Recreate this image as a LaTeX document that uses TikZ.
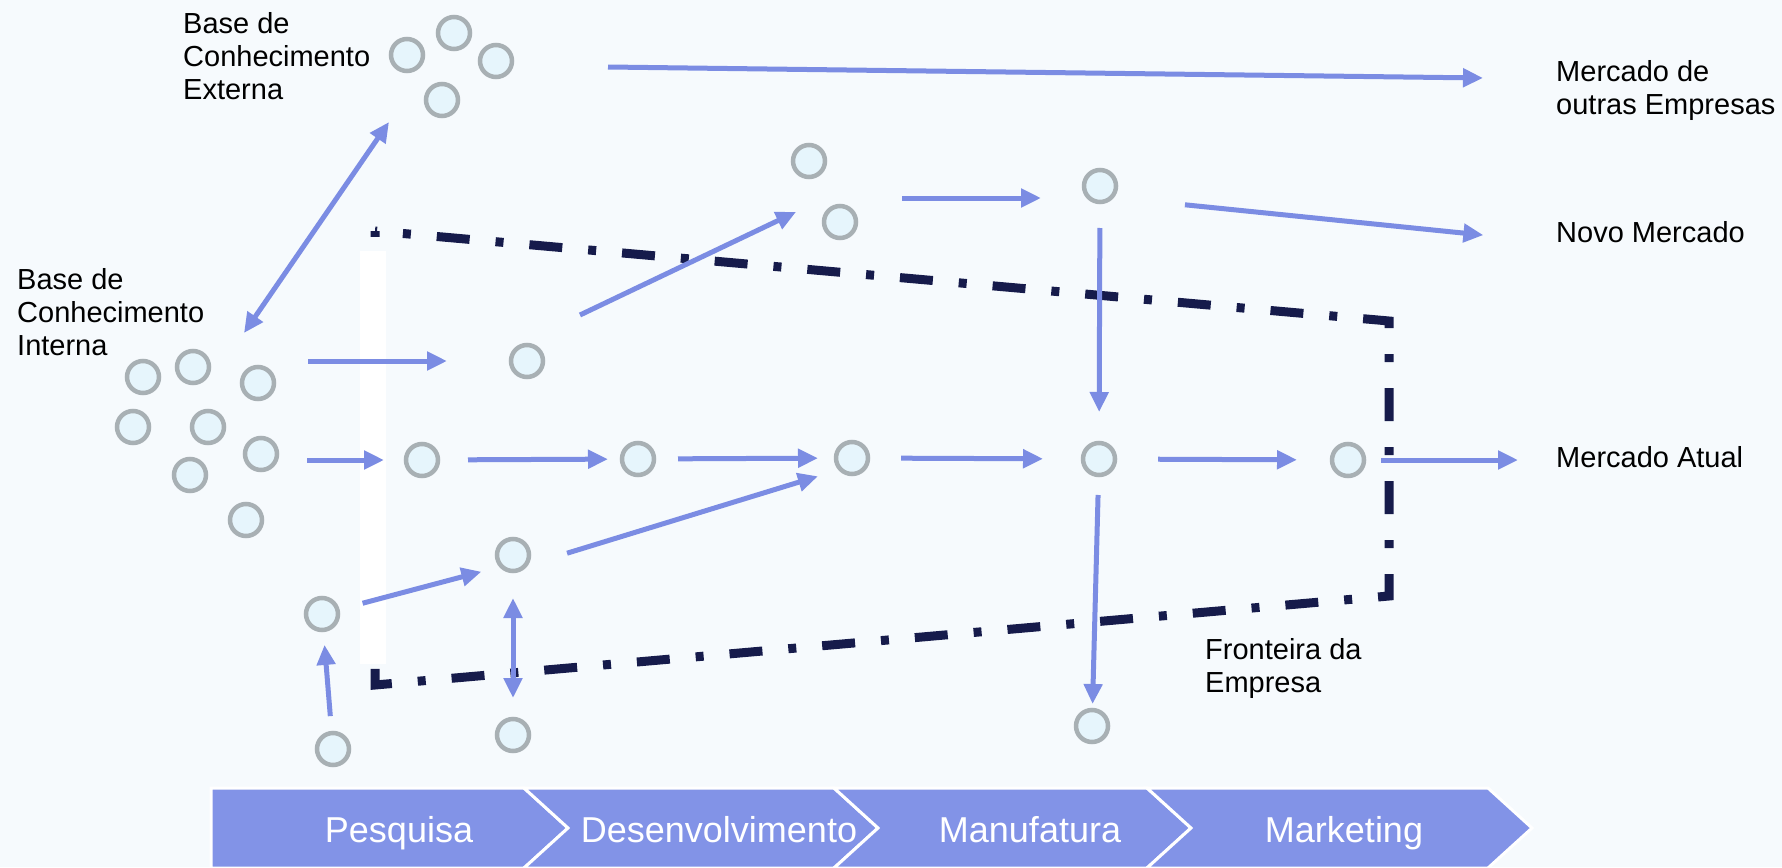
\documentclass[tikz,border=0pt]{standalone}
\usepackage{fontspec}
\setmainfont{Liberation Sans}
\usetikzlibrary{arrows.meta}

\definecolor{corfundo}{HTML}{F6FAFD}
\definecolor{corseta}{HTML}{7B8CE3}
\definecolor{corborda}{HTML}{A8B0B4}
\definecolor{corbolha}{HTML}{E6F5FC}
\definecolor{corfronteira}{HTML}{161B4B}
\definecolor{coretapa}{HTML}{8293E7}

\begin{document}
\begin{tikzpicture}[x=1pt, y=-1pt,
        >={Triangle[length=20pt, width=18pt]},
        seta/.style={->, draw=corseta, line width=5pt},
        bolha/.style={circle, draw=corborda, fill=corbolha, line width=4.5pt,
            minimum size=32pt, inner sep=0pt, outer sep=0pt},
        rotulo/.style={align=left, inner sep=0pt, font=\fontsize{29}{33}\selectfont},
        etapa/.style={text=white, inner sep=0pt, font=\fontsize{36}{43}\selectfont}]
            \useasboundingbox (0, 0) rectangle (1782, 867);
            \fill[corfundo] (0, 0) rectangle (1782, 867);

            \draw[corfronteira, line width=9pt, dash pattern=on 33pt off 26pt on 8pt off 26pt, dash phase=31pt]
                (375, 231) -- (1389, 321) -- (1389, 596) -- (375, 685) -- cycle;
            \fill[white] (360, 251) rectangle (386, 664);

            \foreach \n/\x/\y in {ext1/407/55, ext2/454/33, ext3/496/61, ext4/442/100,
                    int1/143/377, int2/193/367, int3/258/383, int4/133/427,
                    int5/208/427, int6/261/454, int7/190/475, int8/246/520,
                    lin1/422/460, lin2/638/459, lin3/852/458, lin4/1099/459, lin5/1348/460,
                    pesqA/527/361, pesqB/513/555, pesqC/322/614, pesqD/333/749, pesqE/513/735,
                    desA/809/161, desB/840/222, manA/1100/186, manB/1092/726} {
                \node[bolha] (\n) at (\x, \y) {};
            }

            \node[rotulo, anchor=north west] (externa) at (183, 12) {Base de\\Conhecimento\\Externa};
            \node[rotulo, anchor=north west] (interna) at (17, 268) {Base de\\Conhecimento\\Interna};
            \node[rotulo, anchor=north west] (outras) at (1556, 60) {Mercado de\\outras Empresas};
            \node[rotulo, anchor=base west] (novo) at (1556, 242) {Novo Mercado};
            \node[rotulo, anchor=base west] (atual) at (1556, 467) {Mercado Atual};
            \node[rotulo, anchor=north west] (fronteira) at (1205, 638) {Fronteira da\\Empresa};

            \coordinate (kint) at (244, 333);
            \coordinate (kext) at (389, 122);
            \coordinate (sext) at (608, 67);
            \coordinate (soutras) at (1483, 78);
            \coordinate (pdes) at (580, 315);
            \coordinate (qdes) at (796, 212);
            \coordinate (pman) at (902, 198);

            \draw[seta, <->] (kint) -- (kext);
            \draw[seta] (sext) -- (soutras);
            \draw[seta, shorten <=34pt, shorten >=64pt] (int3.east |- pesqA) -- (pesqA);
            \draw[seta, shorten <=30pt, shorten >=22pt] (int6.east |- lin1) -- (lin1);

            \foreach \a/\b/\s/\e in {lin1/lin2/30/14, lin2/lin3/24/18, lin3/lin4/33/40, lin4/lin5/43/35} {
                \draw[seta, shorten <=\s pt, shorten >=\e pt] (\a) -- (\b);
            }
            \draw[seta, shorten <=17pt, shorten >=38pt] (lin5) -- (lin5 -| atual.west);

            \draw[seta, shorten <=17pt, shorten >=15pt] (pesqD) -- (pesqC);
            \draw[seta, shorten <=26pt, shorten >=21pt] (pesqC) -- (pesqB.south west);
            \draw[seta, <->, shorten <=27pt, shorten >=21pt] (pesqB) -- (pesqE);
            \draw[seta, shorten <=44.7pt, shorten >=23.8pt] (pesqB.south east) -- (lin3.south west);

            \draw[seta] (pdes) -- (qdes);
            \draw[seta, shorten >=43pt] (pman) -- (pman -| manA.west);
            \draw[seta, shorten <=26pt, shorten >=31pt] (manA) -- (lin4);
            \draw[seta, shorten <=20pt, shorten >=6pt] (lin4) -- (manB);
            \draw[seta, shorten <=74pt, shorten >=73pt] (manA.south east) -- (novo.south west);

            % cadeia de valor
            \foreach \l/\r/\n/\xc/\nome in {211/524/0/399/Pesquisa, 524/834/44/719/Desenvolvimento,
                    834/1147/44/1030/Manufatura, 1147/1488/44/1344/Marketing} {
                \filldraw[fill=coretapa, draw=white, line width=3pt]
                    (\l, 788) -- (\r, 788) -- (\r+44, 828) -- (\r, 868) -- (\l, 868) -- (\l+\n, 828) -- cycle;
                \node[etapa, anchor=base] (\nome) at (\xc, 842) {\nome};
            }
        \end{tikzpicture}
\end{document}
